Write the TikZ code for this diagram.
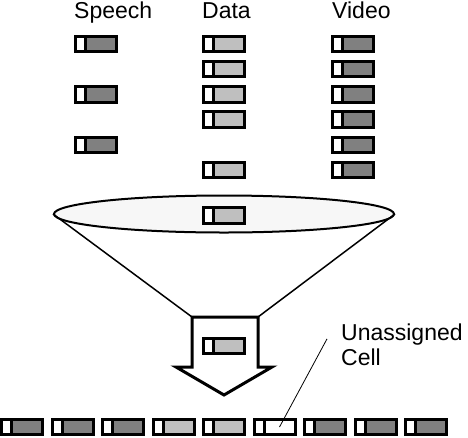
\documentclass[tikz,border=0pt]{standalone}
\usepackage{fontspec}
\setmainfont{Liberation Sans}
\usetikzlibrary{positioning, shapes.geometric, calc}

\definecolor{darkcell}{gray}{0.5}
\definecolor{lightcell}{gray}{0.75}
\definecolor{funnelfill}{gray}{0.97}

\begin{document}
\begin{tikzpicture}[x=1pt, y=-1pt,
    lbl/.style={inner sep=0pt, font=\fontsize{23}{24.5}\selectfont},
    cell/.style={draw, fill=#1, line width=3pt, minimum width=41pt, minimum height=15.5pt, inner sep=0pt,
        path picture={
            \fill[white] (path picture bounding box.south west) rectangle ([xshift=10.3pt]path picture bounding box.north west);
            \draw[line width=3pt] ([xshift=10.3pt]path picture bounding box.south west) -- ([xshift=10.3pt]path picture bounding box.north west);
        }}]

\useasboundingbox (0,0) rectangle (468,437);

% Column headings
\node[lbl, anchor=base west] (speech-lbl) at (74,18) {Speech};
\node[lbl, anchor=base west] (data-lbl) at (202,18) {Data};
\node[lbl, anchor=base west] (video-lbl) at (332,18) {Video};

% Incoming cells per source
\foreach \r in {1,3,5}
    \node[cell=darkcell] (speech-\r) at (96,{44+25.2*(\r-1)}) {};
\foreach \r in {1,2,3,4,6}
    \node[cell=lightcell] (data-\r) at (223.7,{44+25.2*(\r-1)}) {};
\foreach \r in {1,...,6}
    \node[cell=darkcell] (video-\r) at (352.5,{44+25.2*(\r-1)}) {};

% Funnel rim
\node[ellipse, draw, line width=2pt, fill=funnelfill, minimum width=340pt, minimum height=37pt, inner sep=0pt] (funnel) at (224,214) {};
\node[cell=lightcell] (rim-cell) at (223.7,215.3) {};

% Funnel sides down to the arrow
\coordinate (neck-l) at (192,317);
\coordinate (neck-r) at (258,317);
\draw[line width=1.5pt] (funnel.west) -- (neck-l);
\draw[line width=1.5pt] (funnel.east) -- (neck-r);

% Output arrow
\draw[line width=3pt, fill=white, line join=miter]
    (neck-l) -- (neck-r) -- (258,367) -- (272,367) -- (224,395) -- (176,367) -- (192,367) -- cycle;
\node[cell=lightcell] (out-cell) at (223.7,346) {};

% Multiplexed stream
\foreach \c [count=\i] in {darkcell,darkcell,darkcell,lightcell,lightcell,white,darkcell,darkcell,darkcell}
    \node[cell=\c] (slot-\i) at ({22+50.5*(\i-1)},427) {};

% Label for the empty slot
\node[lbl, align=left, anchor=north west] (note) at (341,324) {Unassigned\\Cell};
\draw[line width=0.8pt] ($(note.west)+(-14,-6)$) -- ([xshift=5pt]slot-6.center);
\end{tikzpicture}
\end{document}
